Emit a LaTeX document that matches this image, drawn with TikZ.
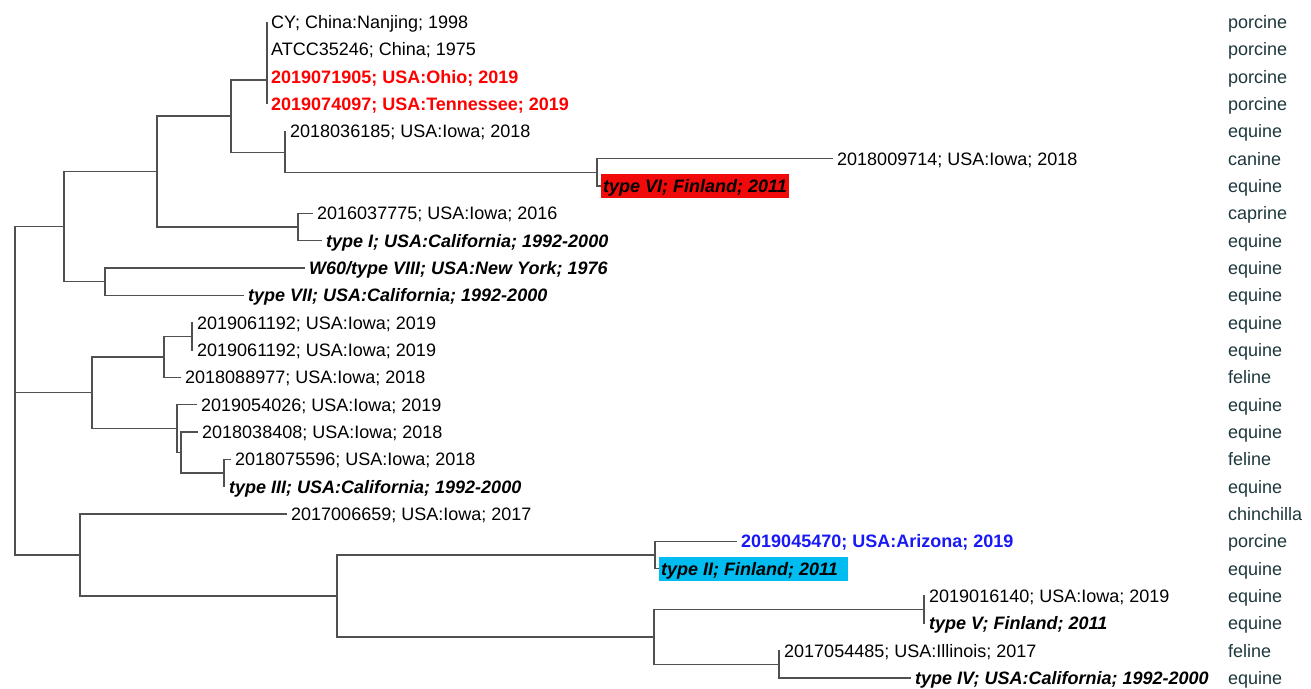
\documentclass[tikz,border=0pt]{standalone}
\usepackage{fontspec}
\setmainfont{Liberation Sans}
\definecolor{branch}{RGB}{80,80,80}
\definecolor{hostc}{RGB}{30,55,60}
\definecolor{redlab}{RGB}{255,0,0}
\definecolor{bluelab}{RGB}{25,25,245}
\definecolor{cyanbox}{RGB}{0,188,240}
\definecolor{redbox}{RGB}{240,10,10}
\begin{document}
\begin{tikzpicture}[x=1pt,y=-1pt,
 br/.style={draw=branch, line width=1.5pt, line join=miter},
 leaf/.style={anchor=west, inner xsep=4pt, inner ysep=0pt, text height=13pt, text depth=0pt, font=\fontsize{18}{20}\selectfont},
 ref/.style={leaf, font=\fontsize{18}{20}\selectfont\bfseries\itshape},
 hl/.style={leaf, font=\fontsize{18}{20}\selectfont\bfseries},
 host/.style={leaf, inner xsep=0pt, text=hostc},
 boxed/.style={ref, inner xsep=2pt, inner ysep=5.5pt}
]
\useasboundingbox (0,0) rectangle (1311,688);
% internal nodes
\coordinate (root) at (15,392.7);
\coordinate (A) at (64,226.6);
\coordinate (B) at (157,171.5);
\coordinate (C) at (231,116);
\coordinate (D) at (267,79.9);
\coordinate (E) at (285,152.3);
\coordinate (F) at (597,172.3);
\coordinate (G) at (298,227);
\coordinate (H) at (105,281.67);
\coordinate (I) at (92,392.7);
\coordinate (K) at (164,356.8);
\coordinate (L) at (192,336.3);
\coordinate (M) at (177,428.6);
\coordinate (N) at (181,452.5);
\coordinate (O) at (224,473);
\coordinate (J) at (80,555);
\coordinate (P) at (337,596);
\coordinate (Q) at (655,555);
\coordinate (R) at (654,637);
\coordinate (S) at (924,609.67);
\coordinate (T) at (779,664.33);
% leaves
\node[leaf] (l0) at (267,22) {CY; China:Nanjing; 1998};
\node[leaf] (l1) at (267,49.33) {ATCC35246; China; 1975};
\node[hl,text=redlab] (l2) at (267,76.67) {2019071905; USA:Ohio; 2019};
\node[hl,text=redlab] (l3) at (267,104) {2019074097; USA:Tennessee; 2019};
\node[leaf] (l4) at (286,131.33) {2018036185; USA:Iowa; 2018};
\node[leaf] (l5) at (833,158.67) {2018009714; USA:Iowa; 2018};
\node[boxed,fill=redbox] (l6) at (601,186) {type VI; Finland; 2011};
\node[leaf] (l7) at (313,213.33) {2016037775; USA:Iowa; 2016};
\node[ref] (l8) at (322,240.67) {type I; USA:California; 1992-2000};
\node[ref] (l9) at (305,268) {W60/type VIII; USA:New York; 1976};
\node[ref] (l10) at (244,295.33) {type VII; USA:California; 1992-2000};
\node[leaf] (l11) at (193,322.67) {2019061192; USA:Iowa; 2019};
\node[leaf] (l12) at (193,350) {2019061192; USA:Iowa; 2019};
\node[leaf] (l13) at (181,377.33) {2018088977; USA:Iowa; 2018};
\node[leaf] (l14) at (197,404.67) {2019054026; USA:Iowa; 2019};
\node[leaf] (l15) at (198,432) {2018038408; USA:Iowa; 2018};
\node[leaf] (l16) at (231,459.33) {2018075596; USA:Iowa; 2018};
\node[ref] (l17) at (225,486.67) {type III; USA:California; 1992-2000};
\node[leaf] (l18) at (287,514) {2017006659; USA:Iowa; 2017};
\node[hl,text=bluelab] (l19) at (737,541.33) {2019045470; USA:Arizona; 2019};
\node[boxed,fill=cyanbox] (l20) at (659,568.67) {type II; Finland; 2011\kern8pt};
\node[leaf] (l21) at (925,596) {2019016140; USA:Iowa; 2019};
\node[ref] (l22) at (925,623.33) {type V; Finland; 2011};
\node[leaf] (l23) at (780,650.67) {2017054485; USA:Illinois; 2017};
\node[ref] (l24) at (911,678) {type IV; USA:California; 1992-2000};
% hosts
\foreach \h [count=\i from 0] in {porcine,porcine,porcine,porcine,equine,canine,equine,caprine,equine,equine,equine,equine,equine,feline,equine,equine,feline,equine,chinchilla,porcine,equine,equine,equine,feline,equine}
  \node[host] (h\i) at (1228,{22+27.3333*\i}) {\h};
% branches
\draw[br] (root) |- (A); \draw[br] (root) |- (I); \draw[br] (root) |- (J);
\draw[br] (A) |- (B); \draw[br] (A) |- (H);
\draw[br] (B) |- (C); \draw[br] (B) |- (G);
\draw[br] (C) |- (D); \draw[br] (C) |- (E);
\foreach \n in {l0,l1,l2,l3} \draw[br] (D) |- (\n.west);
\draw[br] (E) |- (l4.west); \draw[br] (E) |- (F);
\draw[br] (F) |- (l5.west); \draw[br] (F) |- (l6.west);
\draw[br] (G) |- (l7.west); \draw[br] (G) |- (l8.west);
\draw[br] (H) |- (l9.west); \draw[br] (H) |- (l10.west);
\draw[br] (I) |- (K); \draw[br] (I) |- (M);
\draw[br] (K) |- (L); \draw[br] (K) |- (l13.west);
\draw[br] (L) |- (l11.west); \draw[br] (L) |- (l12.west);
\draw[br] (M) |- (l14.west); \draw[br] (M) |- (N);
\draw[br] (N) |- (l15.west); \draw[br] (N) |- (O);
\draw[br] (O) |- (l16.west); \draw[br] (O) |- (l17.west);
\draw[br] (J) |- (l18.west); \draw[br] (J) |- (P);
\draw[br] (P) |- (Q); \draw[br] (P) |- (R);
\draw[br] (Q) |- (l19.west); \draw[br] (Q) |- (l20.west);
\draw[br] (R) |- (S); \draw[br] (R) |- (T);
\draw[br] (S) |- (l21.west); \draw[br] (S) |- (l22.west);
\draw[br] (T) |- (l23.west); \draw[br] (T) |- (l24.west);
\end{tikzpicture}
\end{document}
